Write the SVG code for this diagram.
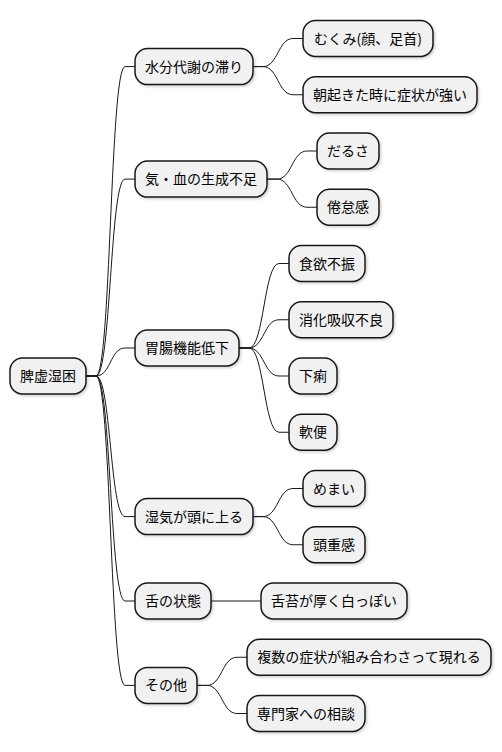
<svg xmlns="http://www.w3.org/2000/svg" width="502" height="752" viewBox="0 0 502 752">
<defs>
<filter id="sh" x="-10%" y="-20%" width="130%" height="150%">
<feDropShadow dx="1.5" dy="1.5" stdDeviation="1.2" flood-color="#000" flood-opacity="0.18"/>
</filter>
</defs>
<style>
.n rect{fill:#F1F1F1;stroke:#181818;stroke-width:1.5;filter:url(#sh)}
.n text{font-family:"Noto Sans CJK JP","Noto Sans",sans-serif;font-size:14px;fill:#000;text-anchor:middle}
#links path{fill:none;stroke:#181818;stroke-width:1}
</style>
<rect width="502" height="752" fill="#fff"/>
<g id="links">
<path d="M86,376 L96,376 C111,376 110,66.6 125,66.6 L135,66.6"/>
<path d="M86,376 L96,376 C111,376 110,179.1 125,179.1 L135,179.1"/>
<path d="M86,376 L96,376 C111,376 110,348 125,348 L135,348"/>
<path d="M86,376 L96,376 C111,376 110,516.6 125,516.6 L135,516.6"/>
<path d="M86,376 L96,376 C111,376 110,601 125,601 L135,601"/>
<path d="M86,376 L96,376 C111,376 110,685.4 125,685.4 L135,685.4"/>
<path d="M253,66.6 L263,66.6 C278,66.6 278,38.5 293,38.5 L303,38.5"/>
<path d="M253,66.6 L263,66.6 C278,66.6 278,94.75 293,94.75 L303,94.75"/>
<path d="M267,179.1 L277,179.1 C292,179.1 292,151 307,151 L317,151"/>
<path d="M267,179.1 L277,179.1 C292,179.1 292,207.25 307,207.25 L317,207.25"/>
<path d="M239,348 L249,348 C264,348 264,263.5 279,263.5 L289,263.5"/>
<path d="M239,348 L249,348 C264,348 264,319.75 279,319.75 L289,319.75"/>
<path d="M239,348 L249,348 C264,348 264,376 279,376 L289,376"/>
<path d="M239,348 L249,348 C264,348 264,432.25 279,432.25 L289,432.25"/>
<path d="M253,516.6 L263,516.6 C278,516.6 278,488.5 293,488.5 L303,488.5"/>
<path d="M253,516.6 L263,516.6 C278,516.6 278,544.75 293,544.75 L303,544.75"/>
<path d="M211,601 L261,601"/>
<path d="M197,685.4 L207,685.4 C222,685.4 222,657.25 237,657.25 L247,657.25"/>
<path d="M197,685.4 L207,685.4 C222,685.4 222,713.5 237,713.5 L247,713.5"/>
</g>
<g id="root" class="n"><rect x="10" y="358" width="76" height="36" rx="12.5"/><text x="48" y="381">脾虚湿困</text></g>
<g id="n1" class="n"><rect x="135" y="48.6" width="118" height="36" rx="12.5"/><text x="194" y="71.6">水分代謝の滞り</text></g>
<g id="n1a" class="n"><rect x="303" y="20.5" width="130" height="36" rx="12.5"/><text x="368" y="43.5">むくみ(顔、足首)</text></g>
<g id="n1b" class="n"><rect x="303" y="76.75" width="174" height="36" rx="12.5"/><text x="390" y="99.75">朝起きた時に症状が強い</text></g>
<g id="n2" class="n"><rect x="135" y="161.1" width="132" height="36" rx="12.5"/><text x="201" y="184.1">気・血の生成不足</text></g>
<g id="n2a" class="n"><rect x="317" y="133" width="62" height="36" rx="12.5"/><text x="348" y="156">だるさ</text></g>
<g id="n2b" class="n"><rect x="317" y="189.25" width="62" height="36" rx="12.5"/><text x="348" y="212.25">倦怠感</text></g>
<g id="n3" class="n"><rect x="135" y="330" width="104" height="36" rx="12.5"/><text x="187" y="353">胃腸機能低下</text></g>
<g id="n3a" class="n"><rect x="289" y="245.5" width="76" height="36" rx="12.5"/><text x="327" y="268.5">食欲不振</text></g>
<g id="n3b" class="n"><rect x="289" y="301.75" width="104" height="36" rx="12.5"/><text x="341" y="324.75">消化吸収不良</text></g>
<g id="n3c" class="n"><rect x="289" y="358" width="48" height="36" rx="12.5"/><text x="313" y="381">下痢</text></g>
<g id="n3d" class="n"><rect x="289" y="414.25" width="48" height="36" rx="12.5"/><text x="313" y="437.25">軟便</text></g>
<g id="n4" class="n"><rect x="135" y="498.6" width="118" height="36" rx="12.5"/><text x="194" y="521.6">湿気が頭に上る</text></g>
<g id="n4a" class="n"><rect x="303" y="470.5" width="62" height="36" rx="12.5"/><text x="334" y="493.5">めまい</text></g>
<g id="n4b" class="n"><rect x="303" y="526.75" width="62" height="36" rx="12.5"/><text x="334" y="549.75">頭重感</text></g>
<g id="n5" class="n"><rect x="135" y="583" width="76" height="36" rx="12.5"/><text x="173" y="606">舌の状態</text></g>
<g id="n5a" class="n"><rect x="261" y="583" width="146" height="36" rx="12.5"/><text x="334" y="606">舌苔が厚く白っぽい</text></g>
<g id="n6" class="n"><rect x="135" y="667.4" width="62" height="36" rx="12.5"/><text x="166" y="690.4">その他</text></g>
<g id="n6a" class="n"><rect x="247" y="639.25" width="244" height="36" rx="12.5"/><text x="369" y="662.25">複数の症状が組み合わさって現れる</text></g>
<g id="n6b" class="n"><rect x="247" y="695.5" width="118" height="36" rx="12.5"/><text x="306" y="718.5">専門家への相談</text></g>
</svg>
